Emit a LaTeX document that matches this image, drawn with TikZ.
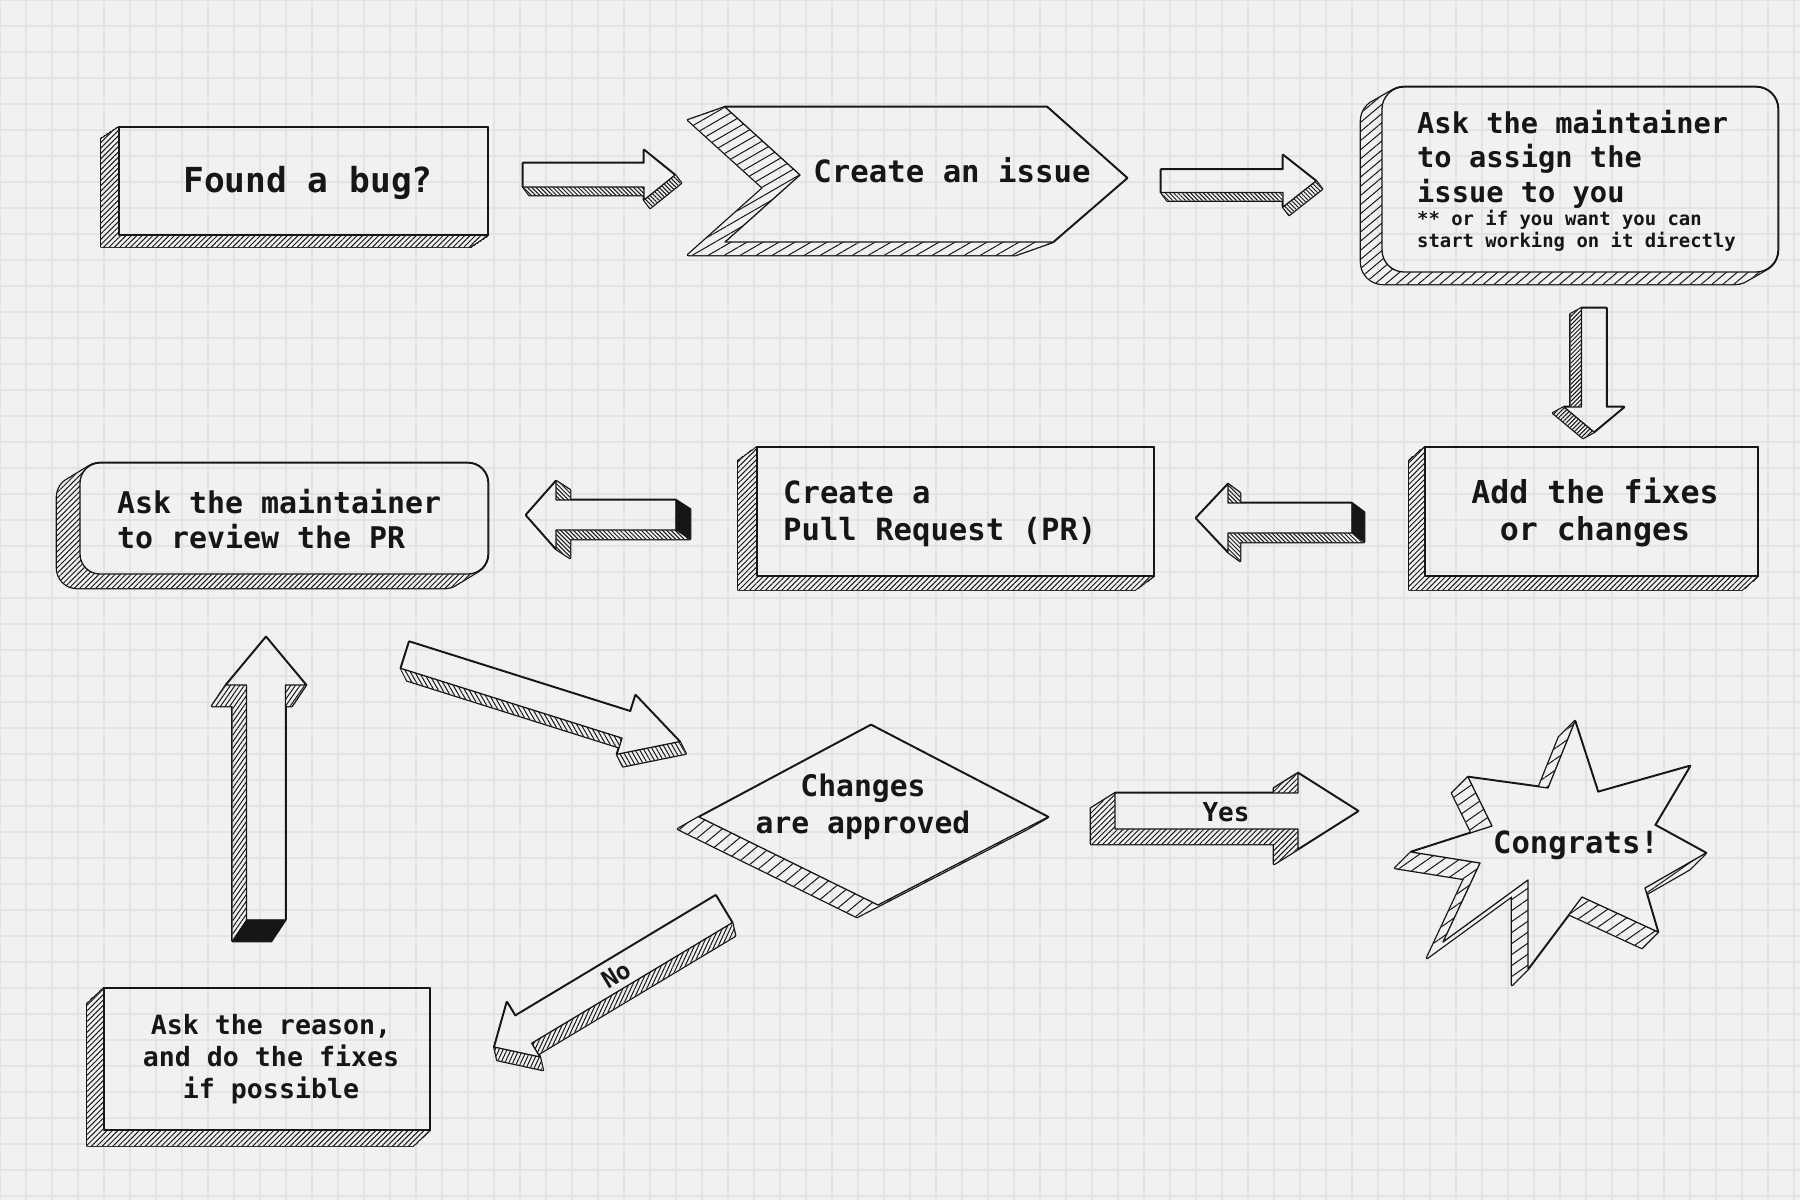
\documentclass[tikz,border=0pt]{standalone}
\usepackage{fontspec}
\setmonofont{DejaVu Sans Mono}
\usetikzlibrary{patterns.meta}

\definecolor{paper}{RGB}{241,241,241}
\definecolor{ink}{RGB}{22,22,22}
\definecolor{gridline}{RGB}{227,227,227}

\tikzset{
  face/.style={fill=paper, draw=ink, line width=1.3pt, line join=round},
  rim/.style={draw=ink, line width=2.6pt, line join=round},
  endcap/.style={fill=ink, draw=ink, line width=1pt, line join=round},
  txt/.style 2 args={font=\ttfamily\bfseries\fontsize{#1}{#2}\selectfont, text=ink, inner sep=0pt},
  hatch/.style 2 args={pattern={Lines[angle=#1, distance=#2pt, line width=1pt]}, pattern color=ink},
}

% solid: depth x, depth y, hatch, anchor, turn, outline
\newcommand\solid[6]{%
  \draw[rim] \foreach \k in {0,...,30}{{[shift={(#4)}, shift={({\k/30*(#1)},{\k/30*(#2)})}, rotate=#5] #6}};
  \fill[paper] \foreach \k in {0,...,30}{{[shift={(#4)}, shift={({\k/30*(#1)},{\k/30*(#2)})}, rotate=#5] #6}};
  \fill[#3] \foreach \k in {0,...,30}{{[shift={(#4)}, shift={({\k/30*(#1)},{\k/30*(#2)})}, rotate=#5] #6}};
  \filldraw[face, shift={(#4)}, rotate=#5] #6;
}

\begin{document}
\begin{tikzpicture}[x=1pt, y=-1pt]
\useasboundingbox (0,0) rectangle (1800,1200);
\fill[paper] (0,0) rectangle (1800,1200);

% boxes
\solid{-18}{12}{hatch={45}{3.8}}{0,0}{0}{(119,127) rectangle (488,235)}
\solid{-37}{13}{hatch={30}{8}}{0,0}{0}{(725,107) -- (1047,107) -- (1127,178) -- (1053,242) -- (725,242) -- (800,175) -- cycle}
\solid{-21}{12}{hatch={40}{7}}{0,0}{0}{[rounded corners=22pt] (1382,87) rectangle (1778,272)}
\solid{-16}{14}{hatch={45}{3.8}}{0,0}{0}{(1425,447) rectangle (1758,576)}
\solid{-19}{14}{hatch={45}{3.8}}{0,0}{0}{(757,447) rectangle (1154,576)}
\solid{-23}{14}{hatch={45}{3.8}}{0,0}{0}{[rounded corners=20pt] (80,463) rectangle (488,574)}
\solid{-21}{12}{hatch={40}{9}}{0,0}{0}{(871,725) -- (1048,817) -- (878,905) -- (699,817) -- cycle}
\solid{-16}{16}{hatch={35}{9}}{0,0}{0}{(1575,721) -- (1598,792) -- (1690,766) -- (1655,825) -- (1706,853) -- (1645,888) -- (1658,932) -- (1582,897) -- (1528,969) -- (1528,880) -- (1443,942) -- (1480,863) -- (1411,852) -- (1492,826) -- (1468,777) -- (1548,788) -- cycle}
\solid{-17}{16}{hatch={45}{3.8}}{0,0}{0}{(104,988) rectangle (430,1130)}

% arrows
\coordinate (bug-issue) at (523,175);
\coordinate (issue-assign) at (1161,181);
\coordinate (assign-fixes) at (1594,308);
\coordinate (fixes-pr) at (1352,518);
\coordinate (pr-review) at (676,515);
\coordinate (reason-review) at (266,920);
\coordinate (review-approved) at (405,655);
\coordinate (approved-yes) at (1115,811);
\coordinate (approved-no) at (724,909);

\solid{6}{8}{hatch={135}{3}}{bug-issue}{0}{(0,-12) -- (121,-12) -- (121,-25) -- (152,0) -- (121,25) -- (121,12) -- (0,12) -- cycle}
\solid{6}{8}{hatch={135}{3}}{issue-assign}{0}{(0,-11.5) -- (122,-11.5) -- (122,-26) -- (155,0) -- (122,26) -- (122,11.5) -- (0,11.5) -- cycle}
\solid{-11}{6}{hatch={45}{3}}{assign-fixes}{-90}{(0,-12.5) -- (99,-12.5) -- (99,-30) -- (124,0) -- (99,30) -- (99,12.5) -- (0,12.5) -- cycle}
\solid{12}{9}{hatch={135}{3}}{fixes-pr}{180}{(0,-15) -- (124,-15) -- (124,-34) -- (156,0) -- (124,34) -- (124,15) -- (0,15) -- cycle}
\filldraw[endcap] (1352,503) -- (1352,533) -- (1364,542) -- (1364,512) -- cycle;
\solid{14}{9}{hatch={135}{3}}{pr-review}{180}{(0,-15) -- (120,-15) -- (120,-34) -- (150,0) -- (120,34) -- (120,15) -- (0,15) -- cycle}
\filldraw[endcap] (676,500) -- (676,530) -- (690,539) -- (690,509) -- cycle;
\solid{-14}{21}{hatch={55}{3.8}}{reason-review}{90}{(0,-19.5) -- (235,-19.5) -- (235,-40) -- (283,0) -- (235,40) -- (235,19.5) -- (0,19.5) -- cycle}
\filldraw[endcap] (246.5,920) -- (285.5,920) -- (271.5,941) -- (232.5,941) -- cycle;
\solid{6}{12}{hatch={120}{3.8}}{review-approved}{-17.5}{(0,-14) -- (232,-14) -- (232,-31) -- (288,0) -- (232,31) -- (232,14) -- (0,14) -- cycle}
\solid{-24}{15}{hatch={45}{3.8}}{approved-yes}{0}{(0,-18) -- (183,-18) -- (183,-38) -- (243,0) -- (183,38) -- (183,18) -- (0,18) -- cycle}
\solid{3}{13}{hatch={65}{3.6}}{approved-no}{211}{(0,-16) -- (234,-16) -- (234,-32) -- (268,0) -- (234,32) -- (234,16) -- (0,16) -- cycle}

% texts
\node[txt={34.5}{41}, anchor=base] (bug) at (308,192) {Found a bug?};
\node[txt={30.7}{37}, anchor=base] (issue) at (952,182) {Create an issue};
\node[txt={28.7}{34.5}, anchor=base west, align=left] (assign) at (1417,202) {Ask the maintainer\\to assign the\\issue to you};
\node[txt={18.9}{21.7}, anchor=base west, align=left] (assignnote) at (1417,247) {** or if you want you can\\start working on it directly};
\node[txt={31.6}{36.5}, anchor=base, align=center] (fixes) at (1595,540) {Add the fixes\\or changes};
\node[txt={30.6}{36.7}, anchor=base west, align=left] (pr) at (783,540) {Create a\\Pull Request (PR)};
\node[txt={29.9}{35}, anchor=base west, align=left] (review) at (117,548) {Ask the maintainer\\to review the PR};
\node[txt={29.7}{36.6}, anchor=base, align=center] (approved) at (863,833) {Changes\\are approved};
\node[txt={30.6}{37}, anchor=base] (congrats) at (1576,853) {Congrats!};
\node[txt={26.6}{31.7}, anchor=base, align=center] (reason) at (271,1098) {Ask the reason,\\and do the fixes\\if possible};
\node[txt={26}{31}, anchor=base] (yes) at (1226,821) {Yes};
\node[txt={24}{29}, rotate=31] (no) at (616,975) {No};

% grid over everything
\begin{scope}[blend mode=darken]
\foreach \gx in {0,26,...,1800} \draw[gridline, line width=1.5pt] (\gx,0) -- (\gx,1200);
\foreach \gy in {0,26,...,1200} \draw[gridline, line width=1.5pt] (0,\gy) -- (1800,\gy);
\end{scope}
\end{tikzpicture}
\end{document}
